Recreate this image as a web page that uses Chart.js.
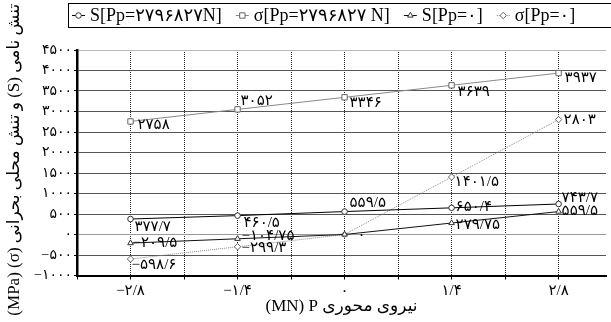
<!DOCTYPE html>
<html>
<head>
<meta charset="utf-8">
<script src="https://cdn.jsdelivr.net/npm/chart.js@4.4.1/dist/chart.umd.min.js"></script>
<style>
  html, body { margin: 0; padding: 0; background: #fff; overflow: hidden; }
  canvas { display: block; }
</style>
</head>
<body>
<canvas id="stressChart" width="611" height="322"></canvas>
<script>
// axial force P (MN) and the stresses for each case
const pValues = [-2.8, -1.4, 0, 1.4, 2.8];
const sPrestress = [377.7, 460.5, 559.5, 650.4, 743.7];
const sigmaPrestress = [2758, 3052, 3346, 3639, 3937];
const sNoPrestress = [-209.5, -104.75, 0, 279.75, 559.5];
const sigmaNoPrestress = [-598.6, -299.3, 0, 1401.5, 2803];
const seriesNames = ['S[Pp=۲۷۹۶۸۲۷N]', 'σ[Pp=۲۷۹۶۸۲۷ N]', 'S[Pp=۰]', 'σ[Pp=۰]'];
const xGridTicks = [-3.5, -2.8, -2.1, -1.4, -0.7, 0, 0.7, 1.4, 2.1, 2.8];
const xLabelTicks = [-2.8, -1.4, 0, 1.4, 2.8];

const FONT = '"Liberation Serif", "DejaVu Sans", serif';

function toFa(v) {
    const s = Math.abs(v).toString().replace('.', '/').replace(/[0-9]/g, d => '۰۱۲۳۴۵۶۷۸۹'[d]);
    return (v < 0 ? '−' : '') + s;
}

function pts(values) {
    return pValues.map((p, i) => ({ x: p, y: values[i] }));
}

// where each value label sits relative to its point [dx, dy], null = no label
const labelNudge = [
    [[4, 8], [6, 7], [5, -8], [4, -1], [3, -6]],
    [[7, 4], [3, -8], [5, 6], [6, 7], [6, 5]],
    [[2, 0], [4, -3], null, [4, 2], [3, 0]],
    [[1, 6], [4, 1], [13, 1], [3, 5], [5, 0]]
];

const valueLabels = {
    id: 'valueLabels',
    afterDatasetsDraw(chart) {
        const ctx = chart.ctx;
        ctx.save();
        ctx.font = '15px ' + FONT;
        ctx.fillStyle = '#000';
        ctx.textAlign = 'left';
        ctx.textBaseline = 'middle';
        chart.data.datasets.forEach((ds, di) => {
            chart.getDatasetMeta(di).data.forEach((pt, i) => {
                const n = labelNudge[di][i];
                if (!n) return;
                ctx.fillText(toFa(ds.data[i].y), pt.x + n[0], pt.y + n[1]);
            });
        });
        ctx.restore();
    }
};

// boxed legend across the top
const boxLegend = {
    id: 'boxLegend',
    afterDraw(chart) {
        const ctx = chart.ctx;
        ctx.save();
        ctx.strokeStyle = '#000';
        ctx.lineWidth = 1;
        ctx.strokeRect(68.5, 3.5, 560, 24);
        ctx.font = '18px ' + FONT;
        ctx.textBaseline = 'middle';
        ctx.textAlign = 'left';
        let x = 72;
        const y = 15.5;
        chart.data.datasets.forEach(ds => {
            ctx.strokeStyle = ds.borderColor;
            ctx.lineWidth = 1;
            ctx.setLineDash(ds.borderDash || []);
            ctx.beginPath();
            ctx.moveTo(x, y);
            ctx.lineTo(x + 13, y);
            ctx.stroke();
            ctx.setLineDash([]);
            ctx.fillStyle = '#fff';
            ctx.strokeStyle = ds.pointBorderColor;
            Chart.helpers.drawPoint(ctx, { pointStyle: ds.pointStyle, radius: ds.pointRadius, borderWidth: 1 }, x + 6.5, y);
            x += 18;
            ctx.fillStyle = '#000';
            ctx.fillText(ds.label, x, y + 1);
            x += ctx.measureText(ds.label).width + 14;
        });
        ctx.restore();
    }
};

// axis titles (the y title is right-to-left text)
const axisTitles = {
    id: 'axisTitles',
    afterDraw(chart) {
        const ctx = chart.ctx;
        const area = chart.chartArea;
        ctx.save();
        ctx.fillStyle = '#000';
        ctx.font = '17px ' + FONT;
        ctx.textAlign = 'center';
        ctx.textBaseline = 'middle';
        ctx.direction = 'ltr';
        ctx.fillText('(MN) P نیروی محوری', (area.left + area.right) / 2, 307);
        ctx.translate(15, (area.top + area.bottom) / 2 - 3);
        ctx.rotate(-Math.PI / 2);
        ctx.direction = 'rtl';
        ctx.fillText('تنش نامی (S) و تنش محلی بحرانی (σ) (MPa)', 0, 0);
        ctx.restore();
    }
};

const baseSet = { borderWidth: 1, pointBackgroundColor: '#fff', pointBorderWidth: 1, fill: false, tension: 0 };

new Chart(document.getElementById('stressChart'), {
    type: 'line',
    data: {
        datasets: [
            { ...baseSet, label: seriesNames[0], data: pts(sPrestress), borderColor: '#000',
              pointStyle: 'circle', pointRadius: 2.8, pointBorderColor: '#333' },
            { ...baseSet, label: seriesNames[1], data: pts(sigmaPrestress), borderColor: '#888',
              pointStyle: 'rect', pointRadius: 3.8, pointBorderColor: '#666' },
            { ...baseSet, label: seriesNames[2], data: pts(sNoPrestress), borderColor: '#111',
              pointStyle: 'triangle', pointRadius: 3.2, pointBorderColor: '#333' },
            { ...baseSet, label: seriesNames[3], data: pts(sigmaNoPrestress), borderColor: '#888',
              borderDash: [1, 1], pointStyle: 'rectRot', pointRadius: 3.2, pointBorderColor: '#666' }
        ]
    },
    options: {
        responsive: false,
        animation: false,
        layout: { padding: { top: 50, left: 0, right: 0, bottom: 0 } },
        plugins: { legend: { display: false }, tooltip: { enabled: false } },
        scales: {
            x: {
                type: 'linear',
                min: -3.5,
                max: 3.42,
                afterBuildTicks(scale) { scale.ticks = xGridTicks.map(v => ({ value: v })); },
                afterFit(scale) { scale.height = 46.5; },
                grid: { color: '#222', lineWidth: 1, tickLength: 4, tickColor: '#000' },
                border: { color: '#000', width: 2, dash: [1, 1] },
                ticks: {
                    autoSkip: false,
                    maxRotation: 0,
                    padding: 3,
                    color: '#000',
                    font: { family: FONT, size: 15 },
                    callback: v => xLabelTicks.includes(v) ? toFa(v) : ''
                }
            },
            y: {
                min: -1000,
                max: 4500,
                afterFit(scale) { scale.width = 77; },
                grid: {
                    lineWidth: 1,
                    tickLength: 3,
                    tickColor: '#000',
                    color: c => c.tick && c.tick.value === 4500 ? '#bbb' : (c.tick && c.tick.value === 0 ? '#999' : '#555')
                },
                border: { color: '#000', width: 2.5 },
                ticks: {
                    stepSize: 500,
                    padding: 2,
                    color: '#000',
                    font: { family: FONT, size: 14 },
                    callback: v => toFa(v)
                }
            }
        }
    },
    plugins: [valueLabels, boxLegend, axisTitles]
});
</script>
</body>
</html>
